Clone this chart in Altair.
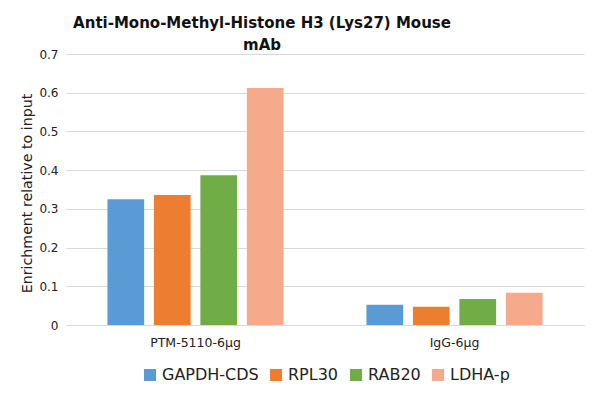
import altair as alt
import pandas as pd

groups = ["PTM-5110-6μg", "IgG-6μg"]
series = ["GAPDH-CDS", "RPL30", "RAB20", "LDHA-p"]
values_ptm = [0.325, 0.336, 0.387, 0.612]
values_igg = [0.052, 0.047, 0.067, 0.083]
colors = ["#5B9BD5", "#ED7D31", "#70AD47", "#F4AA8B"]
y_ticks = [0, 0.1, 0.2, 0.3, 0.4, 0.5, 0.6, 0.7]

rows = []
for g, vals in zip(groups, [values_ptm, values_igg]):
    for s, v in zip(series, vals):
        rows.append({"group": g, "series": s, "value": v})
df = pd.DataFrame(rows)

font = "DejaVu Sans"

chart = alt.Chart(df).mark_bar().encode(
    x=alt.X("group:N", sort=groups, title=None,
            scale=alt.Scale(paddingInner=0.32, paddingOuter=0.16),
            axis=alt.Axis(labelAngle=0, ticks=False, domainColor="#d9d9d9",
                          labelFont=font, labelFontSize=12.5, labelColor="#222",
                          labelPadding=11)),
    xOffset=alt.XOffset("series:N", sort=series,
                        scale=alt.Scale(paddingInner=0.21, paddingOuter=0)),
    y=alt.Y("value:Q", title="Enrichment relative to input",
            scale=alt.Scale(domain=[0, 0.7], nice=False),
            axis=alt.Axis(values=y_ticks, labelOverlap=False,
                          format="~g", domain=False, ticks=False,
                          gridColor="#d9d9d9", labelFont=font, labelFontSize=12,
                          labelColor="#222", labelPadding=8,
                          titleFont=font, titleFontSize=14.2, titleFontWeight="normal",
                          titleColor="#222", titleX=-39, titleY=139,
                          titleAlign="center", titleBaseline="middle", titleAngle=270)),
    color=alt.Color("series:N", sort=series,
                    scale=alt.Scale(domain=series, range=colors),
                    legend=alt.Legend(title=None, orient="none", direction="horizontal",
                                      legendX=76, legendY=313, symbolType="square",
                                      symbolSize=144, symbolStrokeWidth=0,
                                      labelFont=font, labelFontSize=16,
                                      labelColor="#222", labelOffset=4,
                                      columnPadding=9)),
).properties(
    width=518, height=271,
    title=alt.TitleParams(
        text=["Anti-Mono-Methyl-Histone H3 (Lys27) Mouse", "mAb"],
        font=font, fontSize=15, fontWeight="bold", color="#111",
        anchor="middle", dx=-63, dy=6, offset=1, lineHeight=22,
    ),
    autosize=alt.AutoSizeParams(type="none"),
    padding={"left": 58, "top": 46, "right": 5, "bottom": 65},
).configure_view(stroke=None)

chart.save("out.html", embed_options={"renderer": "svg", "actions": False})
